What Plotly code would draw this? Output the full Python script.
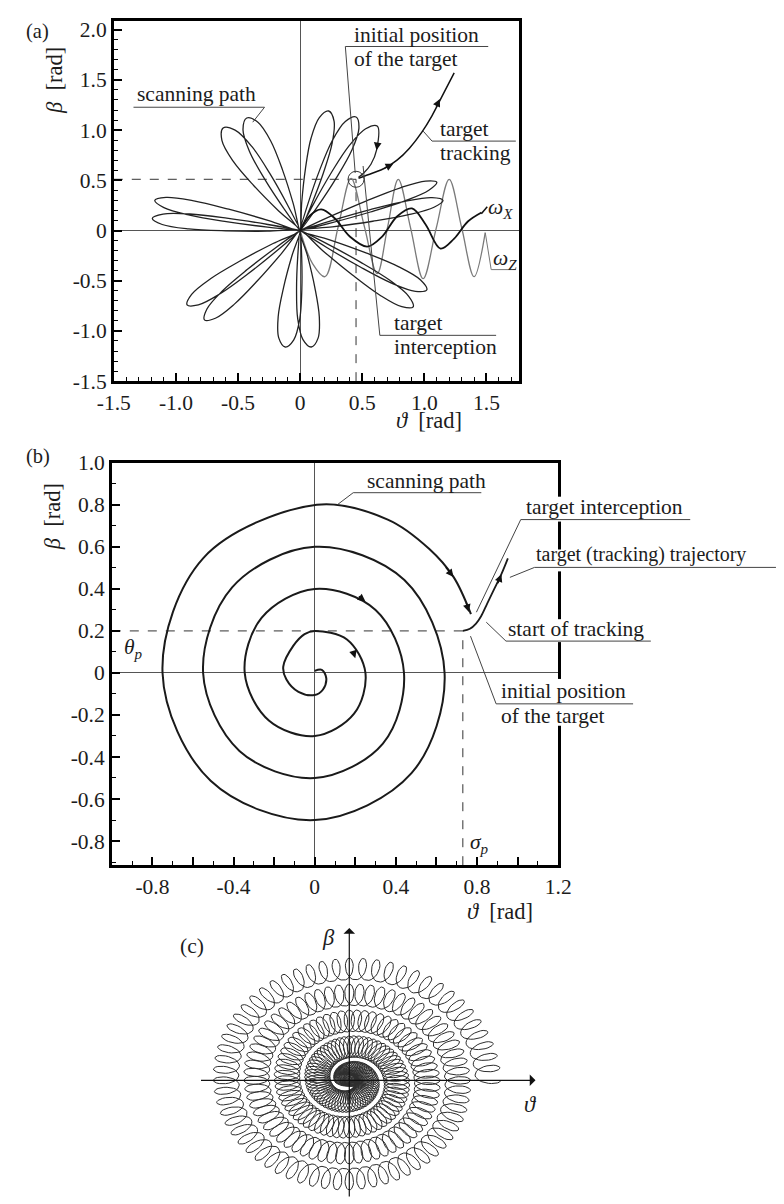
import numpy as np
import plotly.graph_objects as go

# reference pixel X, Y -> figure pixel (X - X0) / SX, (Y - Y0) / SY (measured on earlier renders)
FW, FH = 784, 1204
X0, SX = 19.9, 0.976
Y0, SY = 17.4, 0.984
SERIF = "Liberation Serif, Times New Roman, DejaVu Serif, serif"
INK = "#1c1c1c"

# ---------------- panel (a): rosette scanning path ----------------
A_XRANGE = [-1.5, 1.76]
A_YRANGE = [-1.5, 2.12]
A_XTICKS = [-1.5, -1.0, -0.5, 0, 0.5, 1.0, 1.5]
A_XTEXT = ["-1.5", "-1.0", "-0.5", "0", "0.5", "1.0", "1.5"]
A_YTICKS = [-1.5, -1.0, -0.5, 0, 0.5, 1.0, 1.5, 2.0]
A_YTEXT = ["-1.5", "-1.0", "-0.5", "0", "0.5", "1.0", "1.5", "2.0"]

# petal tips [rad] in scan order (clockwise) and half widths [px]
PETAL_TIP_X = [1.10, 1.15, 1.02, 0.91, 0.09, -0.12, -0.77, -0.91, -1.19, -1.17, -0.62, -0.43, 0.23, 0.45, 0.62]
PETAL_TIP_Y = [0.48, 0.30, -0.59, -0.76, -1.16, -1.16, -0.89, -0.74, 0.12, 0.30, 1.02, 1.12, 1.19, 1.13, 1.04]
PETAL_HALF_W = [7, 7, 9, 9, 11, 11, 9, 9, 7.5, 7.5, 12, 12, 11, 11, 11]
# last petal comes back down onto the target
LAST_RETURN_X = [0.615, 0.57, 0.51, 0.47]
LAST_RETURN_Y = [0.80, 0.66, 0.57, 0.53]

WX_X = [0.0, 0.08, 0.17, 0.28, 0.40, 0.54, 0.66, 0.78, 0.90, 1.01, 1.13, 1.24, 1.35, 1.46]
WX_Y = [0.0, 0.15, 0.21, 0.12, -0.06, -0.16, -0.06, 0.14, 0.22, 0.06, -0.18, -0.08, 0.09, 0.18]
WZ_X = [0.0, 0.1, 0.2, 0.305, 0.41, 0.515, 0.62, 0.705, 0.79, 0.89, 0.99, 1.095, 1.20, 1.30, 1.40, 1.49]
WZ_Y = [0.0, -0.33, -0.46, 0.03, 0.52, 0.05, -0.43, 0.04, 0.51, 0.02, -0.48, 0.02, 0.51, 0.03, -0.46, -0.02]

TRACK_A_X = [0.47, 0.58, 0.68, 0.78, 0.88, 0.98, 1.06, 1.14, 1.24]
TRACK_A_Y = [0.52, 0.57, 0.62, 0.70, 0.82, 0.98, 1.14, 1.33, 1.57]
TARGET_A = (0.45, 0.51)
# arrows on curves (tail x, tail y, head x, head y)
ARROWS_A = [(0.67, 0.615, 0.75, 0.665), (1.09, 1.22, 1.125, 1.31), (0.625, 0.88, 0.615, 0.80)]

# ---------------- panel (b): spiral scan ----------------
B_XRANGE = [-1.0, 1.2]
B_YRANGE = [-0.915, 1.0]
B_XTICKS = [-0.8, -0.6, -0.4, -0.2, 0, 0.2, 0.4, 0.6, 0.8, 1.0, 1.2]
B_XTEXT = ["-0.8", "", "-0.4", "", "0", "", "0.4", "", "0.8", "", "1.2"]
B_YTICKS = [-0.8, -0.6, -0.4, -0.2, 0, 0.2, 0.4, 0.6, 0.8, 1.0]
B_YTEXT = ["-0.8", "-0.6", "-0.4", "-0.2", "0", "0.2", "0.4", "0.6", "0.8", "1.0"]

SPIRAL_B_X = [0.0, 0.035, 0.057, 0.04, 0.0, -0.08, -0.14, -0.155, -0.105, -0.05, 0.0,
              0.159, 0.25, 0.194, 0.0, -0.226, -0.345, -0.262,
              0.0, 0.30, 0.44, 0.336, 0.0, -0.371, -0.55, -0.407,
              0.0, 0.442, 0.64, 0.477, 0.0, -0.513, -0.75, -0.548,
              0.01, 0.36, 0.565, 0.684, 0.77]
SPIRAL_B_Y = [0.01, 0.015, -0.025, -0.08, -0.105, -0.09, -0.03, 0.03, 0.13, 0.185, 0.2,
              0.159, 0.0, -0.194, -0.30, -0.226, 0.0, 0.262,
              0.40, 0.30, 0.0, -0.336, -0.50, -0.371, 0.0, 0.407,
              0.60, 0.442, 0.0, -0.477, -0.70, -0.513, 0.0, 0.548,
              0.80, 0.73, 0.59, 0.457, 0.28]
TRACK_B_X = [0.73, 0.765, 0.795, 0.82, 0.85, 0.885, 0.92, 0.952]
TRACK_B_Y = [0.20, 0.21, 0.235, 0.27, 0.33, 0.40, 0.47, 0.545]
TARGET_B = (0.73, 0.20)
ARROWS_B = [(0.64, 0.51, 0.684, 0.457), (0.21, 0.37, 0.25, 0.34), (0.187, 0.11, 0.20, 0.07),
            (0.745, 0.34, 0.76, 0.29), (0.90, 0.42, 0.92, 0.47)]

# ---------------- panel (c): looped spiral (reference px units) ----------------
C_QUARTER_R = [2, 9, 17, 25, 32, 40, 48, 56, 63, 71, 79, 87, 94, 102, 110, 118, 125, 133, 141]
C_VERT_SCALE = 0.84
C_LOOP_RADIAL = 13
C_LOOP_TANG = 7
C_LOOPS_PER_TURN = 64


def lx(X):
    return (X - X0) / SX


def ly(Y):
    return (Y - Y0) / SY


def rX(x):
    return X0 + SX * x


def rY(y):
    return Y0 + SY * y


def P(X, Y):
    """reference pixel -> paper fraction, kept inside the figure"""
    return min(max(lx(X) / FW, 0.0), 0.998), min(max(1 - ly(Y) / FH, 0.0), 1.0)


def dom_x(Xa, Xb):
    return [P(Xa, 0)[0], P(Xb, 0)[0]]


def dom_y(Ytop, Ybot):
    return [P(0, Ybot)[1], P(0, Ytop)[1]]


def fs(size):
    return size / SX


def petal_pts(tx, ty, hw, sx, sy):
    dx, dy = tx * sx, ty * sy
    L = np.hypot(dx, dy)
    ux, uy = dx / L, dy / L
    nx, ny = -uy, ux
    prof = [(0.22, 0.45), (0.5, 0.85), (0.75, 1.0), (0.93, 0.7)]
    out = [(f * dx + w * hw * nx, f * dy + w * hw * ny) for f, w in prof]
    back = [(f * dx - w * hw * nx, f * dy - w * hw * ny) for f, w in reversed(prof)]
    return [(p / sx, q / sy) for p, q in out + [(dx, dy)]], [(p / sx, q / sy) for p, q in back]


fig = go.Figure()

# ---- (a) traces; box in reference px (left, top, right, bottom)
A_BOX = (110, 16, 521, 381)
sxa = (A_BOX[2] - A_BOX[0]) / (A_XRANGE[1] - A_XRANGE[0])
sya = (A_BOX[3] - A_BOX[1]) / (A_YRANGE[1] - A_YRANGE[0])
a_top_eff = max(A_BOX[1], rY(2.0))
a_ytop = A_YRANGE[1] - (a_top_eff - A_BOX[1]) / sya

rx, ry = [0.0], [0.0]
n = len(PETAL_TIP_X)
for i in range(n):
    out, back = petal_pts(PETAL_TIP_X[i], PETAL_TIP_Y[i], PETAL_HALF_W[i], sxa, sya)
    rx += [p[0] for p in out]
    ry += [p[1] for p in out]
    if i < n - 1:
        rx += [p[0] for p in back] + [0.0]
        ry += [p[1] for p in back] + [0.0]
    else:
        rx += LAST_RETURN_X
        ry += LAST_RETURN_Y

dash = dict(color="#333", width=1, dash="dash")
fig.add_trace(go.Scatter(x=[A_XRANGE[0], TARGET_A[0]], y=[TARGET_A[1], TARGET_A[1]], mode="lines",
                         line=dash, xaxis="x", yaxis="y"))
fig.add_trace(go.Scatter(x=[TARGET_A[0], TARGET_A[0]], y=[A_YRANGE[0], TARGET_A[1]], mode="lines",
                         line=dash, xaxis="x", yaxis="y"))
fig.add_trace(go.Scatter(x=WZ_X, y=WZ_Y, mode="lines", line=dict(color="#7a7a7a", width=1.3, shape="spline"),
                         xaxis="x", yaxis="y"))
fig.add_trace(go.Scatter(x=rx, y=ry, mode="lines", line=dict(color="#222", width=1.3, shape="spline", smoothing=1),
                         xaxis="x", yaxis="y"))
fig.add_trace(go.Scatter(x=WX_X, y=WX_Y, mode="lines", line=dict(color="#111", width=1.8, shape="spline"),
                         xaxis="x", yaxis="y"))
fig.add_trace(go.Scatter(x=TRACK_A_X, y=TRACK_A_Y, mode="lines", line=dict(color="#111", width=1.5, shape="spline"),
                         xaxis="x", yaxis="y"))
fig.add_trace(go.Scatter(x=[TARGET_A[0]], y=[TARGET_A[1]], mode="markers",
                         marker=dict(symbol="circle-open", size=16, color="#333", line=dict(width=1)),
                         xaxis="x", yaxis="y"))

# ---- (b) traces
fig.add_trace(go.Scatter(x=[B_XRANGE[0], TARGET_B[0]], y=[TARGET_B[1], TARGET_B[1]], mode="lines",
                         line=dash, xaxis="x2", yaxis="y2"))
fig.add_trace(go.Scatter(x=[TARGET_B[0], TARGET_B[0]], y=[B_YRANGE[0], TARGET_B[1]], mode="lines",
                         line=dash, xaxis="x2", yaxis="y2"))
fig.add_trace(go.Scatter(x=SPIRAL_B_X, y=SPIRAL_B_Y, mode="lines",
                         line=dict(color="#1a1a1a", width=2, shape="spline", smoothing=1), xaxis="x2", yaxis="y2"))
fig.add_trace(go.Scatter(x=TRACK_B_X, y=TRACK_B_Y, mode="lines",
                         line=dict(color="#1a1a1a", width=1.8, shape="spline"), xaxis="x2", yaxis="y2"))

# ---- (c) looped spiral
q_ang = np.pi - np.arange(len(C_QUARTER_R)) * np.pi / 2
turns = (q_ang[0] - q_ang[-1]) / (2 * np.pi)
npts = int(turns * C_LOOPS_PER_TURN * 24)
th = np.linspace(q_ang[0], q_ang[-1], npts)
r = np.interp(th, q_ang[::-1], np.array(C_QUARTER_R)[::-1])
phi = (q_ang[0] - th) * C_LOOPS_PER_TURN
radx, rady = np.cos(th), np.sin(th)
tanx, tany = -np.sin(th), np.cos(th)
cx = r * radx + C_LOOP_RADIAL * np.cos(phi) * radx + C_LOOP_TANG * np.sin(phi) * tanx
cy = (r * rady + C_LOOP_RADIAL * np.cos(phi) * rady + C_LOOP_TANG * np.sin(phi) * tany) * C_VERT_SCALE
fig.add_trace(go.Scatter(x=cx, y=cy, mode="lines", line=dict(color="#2e2e2e", width=1.0),
                         xaxis="x3", yaxis="y3"))

# ---- axes
tickfont = dict(family=SERIF, size=fs(21), color=INK)
common = dict(showgrid=False, zeroline=True, zerolinecolor="#555", zerolinewidth=1,
              showline=True, linecolor="black", linewidth=2.5, mirror=True,
              ticks="inside", ticklen=8, tickwidth=1.5, tickcolor="black", tickfont=tickfont,
              tickmode="array", fixedrange=True)
minor = dict(dtick=0.1, tick0=0, ticks="inside", ticklen=4, tickwidth=1, tickcolor="black")

C_ORIGIN = (349, 1083)
c_left, c_right, c_top, c_bot = rX(0), rX(FW), 900, rY(FH)

fig.update_layout(
    width=FW, height=FH, margin=dict(l=0, r=0, t=0, b=0),
    paper_bgcolor="white", plot_bgcolor="rgba(0,0,0,0)", showlegend=False,
    xaxis=dict(domain=dom_x(A_BOX[0], A_BOX[2]), range=A_XRANGE, tickvals=A_XTICKS, ticktext=A_XTEXT,
               anchor="y", minor=minor, **common),
    yaxis=dict(domain=dom_y(a_top_eff, A_BOX[3]), range=[A_YRANGE[0], a_ytop], tickvals=A_YTICKS,
               ticktext=A_YTEXT, anchor="x", minor=minor, **common),
    xaxis2=dict(domain=dom_x(108, 561), range=B_XRANGE, tickvals=B_XTICKS, ticktext=B_XTEXT,
                anchor="y2", minor=minor, **common),
    yaxis2=dict(domain=dom_y(463, 867), range=B_YRANGE, tickvals=B_YTICKS, ticktext=B_YTEXT,
                anchor="x2", minor=minor, **common),
    xaxis3=dict(domain=[0, 1], range=[c_left - C_ORIGIN[0], c_right - C_ORIGIN[0]], visible=False,
                anchor="y3", fixedrange=True),
    yaxis3=dict(domain=dom_y(c_top, c_bot), range=[C_ORIGIN[1] - c_bot, C_ORIGIN[1] - c_top], visible=False,
                anchor="x3", fixedrange=True),
)


def label(X, Y, text, size=21, anchor="left", angle=0, yanchor="middle"):
    x, y = P(X, Y)
    fig.add_annotation(x=x, y=y, xref="paper", yref="paper", text=text, showarrow=False,
                       xanchor=anchor, yanchor=yanchor, textangle=angle, borderpad=0,
                       font=dict(family=SERIF, size=fs(size), color=INK))


def polyline(pts, color="#444", width=1):
    path = ""
    for k, (X, Y) in enumerate(pts):
        x, y = P(X, Y)
        path += ("M" if k == 0 else "L") + f"{x:.5f},{y:.5f} "
    fig.add_shape(type="path", path=path, xref="paper", yref="paper", layer="above",
                  line=dict(color=color, width=width))


def white_box(Xa, Ya, Xb, Yb):
    x0, y0 = P(Xa, Ya)
    x1, y1 = P(Xb, Yb)
    fig.add_shape(type="rect", x0=x0, x1=x1, y0=y0, y1=y1, xref="paper", yref="paper",
                  layer="above", fillcolor="white", line=dict(width=0))


def curve_arrow(ax, ay, x, y, xr, yr):
    fig.add_annotation(x=x, y=y, ax=ax, ay=ay, xref=xr, yref=yr, axref=xr, ayref=yr, text="",
                       showarrow=True, arrowhead=2, arrowsize=1.1, arrowwidth=1.4, arrowcolor="#111")


# ---- (a) texts
label(20, 0, "(a)", size=20, anchor="left", yanchor="top")
label(50, 79, "<i>β</i>  [rad]", size=22, anchor="center", angle=-90)
label(430, 421, "<i>ϑ</i>  [rad]", size=22, anchor="center")
label(133, 93, "scanning path")
polyline([(130, 106), (263, 106), (251, 121)])
label(353, 33, "initial position")
label(353, 58, "of the target")
polyline([(490, 45), (345, 45), (355, 172)])
label(440, 128, "target")
label(440, 152, "tracking")
polyline([(424, 130), (433, 140), (518, 140)])
label(393, 323, "target")
label(393, 347, "interception")
polyline([(363, 165), (380, 335), (498, 335)])
label(489, 208, "<i>ω</i><sub><i>X</i></sub>", size=21)
polyline([(483, 213), (489, 206)], color="#111", width=1.5)
label(494, 259, "<i>ω</i><sub><i>Z</i></sub>", size=21)
polyline([(487, 232), (493, 269), (518, 269)], color="#777")
for t in ARROWS_A:
    curve_arrow(t[0], t[1], t[2], t[3], "x", "y")

# ---- (b) texts
label(20, 457, "(b)", size=20, anchor="left")
label(48, 517, "<i>β</i>  [rad]", size=22, anchor="center", angle=-90)
label(502, 913, "<i>ϑ</i>  [rad]", size=22, anchor="center")
label(119, 649, "<i>θ</i><sub><i>p</i></sub>", size=21)
label(470, 845, "<i>σ</i><sub><i>p</i></sub>", size=21)
for ya, yb in [(497, 522), (550, 572), (620, 643), (680, 727)]:
    white_box(554, ya, 568, yb)
label(366, 481, "scanning path")
polyline([(337, 505), (353, 493), (483, 493)])
label(527, 507, "target interception")
polyline([(478, 613), (523, 520), (695, 520)])
label(537, 555, "target (tracking) trajectory", size=19.5)
polyline([(512, 578), (537, 568), (782, 568)])
label(509, 630, "start of tracking")
polyline([(488, 623), (508, 642), (655, 642)])
label(502, 692, "initial position")
label(502, 717, "of the target")
polyline([(472, 637), (498, 705), (637, 705)])
for t in ARROWS_B:
    curve_arrow(t[0], t[1], t[2], t[3], "x2", "y2")

# ---- (c) axes and texts
fig.add_annotation(x=538 - C_ORIGIN[0], y=0, ax=197 - C_ORIGIN[0], ay=0, xref="x3", yref="y3",
                   axref="x3", ayref="y3", text="", showarrow=True, arrowhead=1, arrowsize=1.6,
                   arrowwidth=1.2, arrowcolor="#111")
fig.add_annotation(x=0, y=C_ORIGIN[1] - 930, ax=0, ay=C_ORIGIN[1] - c_bot + 1, xref="x3", yref="y3",
                   axref="x3", ayref="y3", text="", showarrow=True, arrowhead=1, arrowsize=1.6,
                   arrowwidth=1.2, arrowcolor="#111")
label(189, 948, "(c)", size=21, anchor="center")
label(328, 940, "<i>β</i>", size=22, anchor="center")
label(533, 1107, "<i>ϑ</i>", size=22, anchor="center")

fig.write_html("out.html")
